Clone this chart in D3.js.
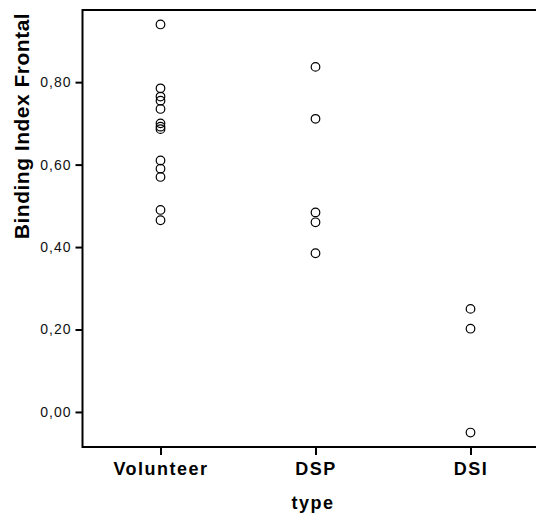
<!DOCTYPE html>
<html>
<head>
<meta charset="utf-8">
<script src="https://cdn.jsdelivr.net/npm/d3@7"></script>
<style>
  body { margin: 0; background: #fff; }
  svg { display: block; font-family: "Liberation Sans", Arial, sans-serif; }
</style>
</head>
<body>
<div id="scatter"></div>
<script>
// Data
var categories = ["Volunteer", "DSP", "DSI"];
var volunteerValues = [0.94, 0.785, 0.765, 0.755, 0.735, 0.70, 0.692, 0.686, 0.61, 0.59, 0.57, 0.49, 0.465];
var dspValues = [0.837, 0.711, 0.484, 0.46, 0.385];
var dsiValues = [0.25, 0.202, -0.05];
var yTicks = [0, 0.2, 0.4, 0.6, 0.8];

// SVG area
var svgWidth = 536;
var svgHeight = 517;

var svg = d3.select("#scatter")
  .append("svg")
  .attr("width", svgWidth)
  .attr("height", svgHeight);

// Build one row per point
var points = [];
[volunteerValues, dspValues, dsiValues].forEach(function(vals, i) {
  vals.forEach(function(v) {
    points.push({ type: categories[i], value: v });
  });
});

// Scales (plot frame runs off the right edge like the original)
var xScale = d3.scalePoint()
  .domain(categories)
  .range([160.5, 470.5]);

var yScale = d3.scaleLinear()
  .domain([-0.085, 0.975])
  .range([447, 10]);

var frameLeft = 82.5;
var frameRight = 560;

// Frame
svg.append("rect")
  .attr("x", frameLeft)
  .attr("y", yScale(0.975))
  .attr("width", frameRight - frameLeft)
  .attr("height", yScale(-0.085) - yScale(0.975))
  .attr("fill", "none")
  .attr("stroke", "#000")
  .attr("stroke-width", 2);

// Y axis
var yAxis = d3.axisLeft(yScale)
  .tickValues(yTicks)
  .tickSize(7)
  .tickFormat(function(d) { return d3.format(".2f")(d).replace(".", ","); });

var yAxisGroup = svg.append("g")
  .attr("transform", `translate(${frameLeft}, 0)`)
  .call(yAxis);
yAxisGroup.select(".domain").remove();
yAxisGroup.selectAll(".tick line").attr("stroke", "#000").attr("stroke-width", 2);
yAxisGroup.selectAll(".tick text")
  .attr("x", -11)
  .attr("font-size", "14px")
  .attr("letter-spacing", "1px")
  .attr("fill", "#111");

// X axis
var xAxis = d3.axisBottom(xScale).tickSize(8);
var xAxisGroup = svg.append("g")
  .attr("transform", `translate(0, ${yScale(-0.085)})`)
  .call(xAxis);
xAxisGroup.select(".domain").remove();
xAxisGroup.selectAll(".tick line").attr("stroke", "#000").attr("stroke-width", 2);
xAxisGroup.selectAll(".tick text")
  .attr("y", 15)
  .attr("dy", "0.71em")
  .attr("font-size", "18px")
  .attr("font-weight", "bold")
  .attr("letter-spacing", "1.5px")
  .attr("fill", "#000");

// Points
svg.selectAll("circle")
  .data(points)
  .enter()
  .append("circle")
  .attr("cx", d => xScale(d.type))
  .attr("cy", d => yScale(d.value))
  .attr("r", 4.3)
  .attr("fill", "none")
  .attr("stroke", "#000")
  .attr("stroke-width", 1.2);

// Axis titles
svg.append("text")
  .attr("x", 313)
  .attr("y", 509)
  .attr("text-anchor", "middle")
  .attr("font-size", "18px")
  .attr("font-weight", "bold")
  .attr("letter-spacing", "1.5px")
  .text("type");

svg.append("text")
  .attr("transform", "translate(29, 126) rotate(-90)")
  .attr("text-anchor", "middle")
  .attr("font-size", "21px")
  .attr("font-weight", "bold")
  .attr("letter-spacing", "0.5px")
  .text("Binding Index Frontal");
</script>
</body>
</html>
